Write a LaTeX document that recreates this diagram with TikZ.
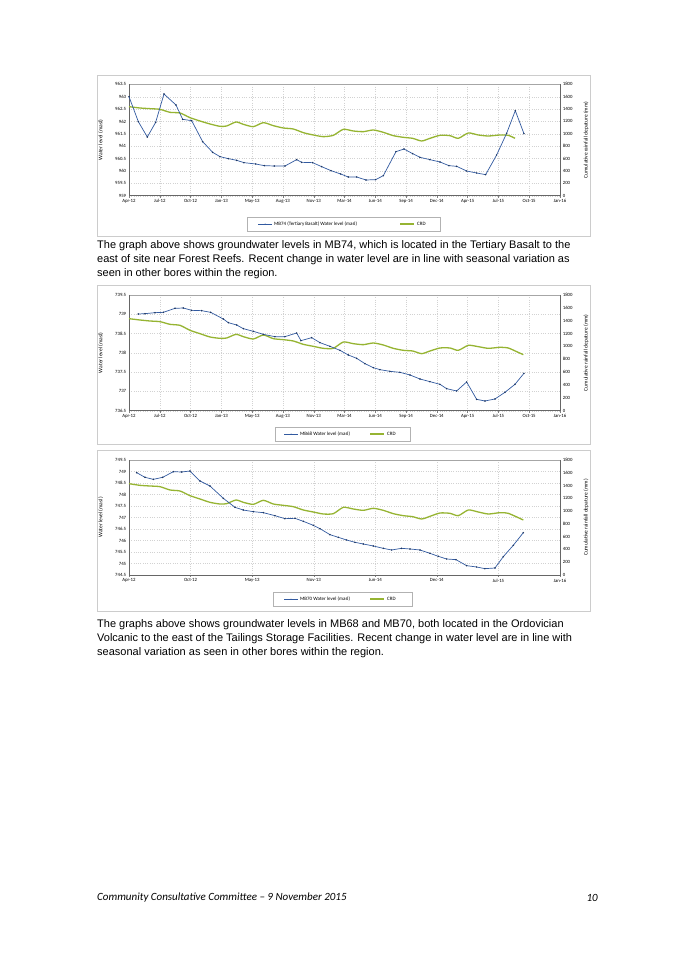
\documentclass[tikz,border=0pt]{standalone}
\usepackage{fontspec}
\setmainfont{Liberation Sans}
\newfontfamily\carl{Carlito}
\definecolor{blu}{RGB}{50,90,160}
\definecolor{grn}{RGB}{150,180,50}
\tikzset{tick/.style={font=\carl\fontsize{4.8}{5}\selectfont,inner sep=1pt},
 grid/.style={gray!35,dotted,line width=0.3pt},
 bl/.style={blu,line width=0.7pt},
 gr/.style={grn,line width=1.3pt},
 para/.style={font=\fontsize{11}{14}\selectfont,align=left,anchor=north west,inner sep=0pt}}
\newcommand\mychart[9]{%
\begin{scope}[shift={(#1,#2)},x=0.3333pt,y=-0.3333pt]
\pgfmathsetmacro\dy{(\pbot-\ptop)/#3}
\pgfmathsetmacro\dyr{(\pbot-\ptop)/9}
\pgfmathsetmacro\dx{(1410-117)/#5}
\foreach \l [count=\i from 0] in {#4} {
  \pgfmathsetmacro\yy{\ptop+\i*\dy}
  \draw[grid] (117,\yy) -- (1410,\yy);
  \node[tick,anchor=east] at (112,\yy) {\l};}
\foreach \l [count=\i from 0] in {1800,1600,1400,1200,1000,800,600,400,200,0} {
  \pgfmathsetmacro\yy{\ptop+\i*\dyr}
  \node[tick,anchor=west] at (1415,\yy) {\l};}
\foreach \l [count=\i from 0] in {#6} {
  \pgfmathsetmacro\xx{117+\i*\dx}
  \draw[grid] (\xx,\ptop) -- (\xx,\pbot);
  \draw[gray,line width=0.3pt] (\xx,\pbot) -- (\xx,\pbot+6);
  \node[tick,anchor=north] at (\xx,\pbot+8) {\l};}
\draw[gray!70,line width=0.4pt] (117,\ptop) -- (1410,\ptop);
\draw[gray!80!black,line width=0.4pt] (117,\ptop) -- (117,\pbot) -- (1410,\pbot) -- (1410,\ptop);
\node[tick,rotate=90,font=\carl\fontsize{5.5}{6}\selectfont] at (32,{(\ptop+\pbot)/2}) {Water level (masl)};
\node[tick,rotate=90,font=\carl\fontsize{5.5}{6}\selectfont] at (1488,{(\ptop+\pbot)/2}) {#9};
\draw[gr] plot[smooth,tension=0.4] coordinates {#8};
\draw[bl] plot[mark=*,mark size=0.35pt,mark options={fill=blu!60!black,draw=blu!60!black}] coordinates {#7};
\end{scope}}
\begin{document}
\begin{tikzpicture}[x=1pt,y=-1pt]
\path[use as bounding box,fill=white] (0,0) rectangle (682,965);
\draw[gray!40,line width=0.4pt] (97,75) rectangle (590,236);
\draw[gray!40,line width=0.4pt] (97,285) rectangle (590,444);
\draw[gray!40,line width=0.4pt] (97,450) rectangle (590,611);
\def\ptop{28}\def\pbot{362}
\mychart{90}{75}{9}{963.5,963,962.5,962,961.5,961,960.5,960,959.5,959}{14}{Apr-12,Jul-12,Oct-12,Jan-13,May-13,Aug-13,Nov-13,Mar-14,Jun-14,Sep-14,Dec-14,Apr-15,Jul-15,Oct-15,Jan-16}
{(117,65)(145,140)(172,186)(197,142)(222,57)(258,90)(278,133)(305,137)(338,200)(368,232)(390,245)(415,251)(440,256)(462,263)(497,267)(523,272)(553,273)(585,273)(620,254)(635,262)(668,263)(695,275)(723,287)(752,297)(775,306)(800,306)(828,315)(857,314)(880,302)(918,230)(942,222)(968,236)(990,247)(1020,254)(1050,261)(1077,272)(1100,274)(1130,288)(1160,294)(1187,299)(1220,240)(1250,175)(1276,107)(1302,176)}
{(117,95)(150,99)(180,101)(210,103)(240,112)(270,114)(300,128)(330,138)(360,147)(390,154)(410,153)(438,141)(460,148)(490,155)(520,143)(550,152)(580,159)(610,162)(640,173)(670,180)(700,185)(730,181)(760,163)(790,168)(820,170)(850,165)(880,172)(910,182)(940,187)(968,190)(995,198)(1020,190)(1050,181)(1080,182)(1105,190)(1135,174)(1165,180)(1195,183)(1230,180)(1255,181)(1275,190)}
{Cumulative rainfall depature (mm)}
\def\ptop{30}\def\pbot{377}
\mychart{90}{285}{6}{739.5,739,738.5,738,737.5,737,736.5}{14}{Apr-12,Jul-12,Oct-12,Jan-13,May-13,Aug-13,Nov-13,Mar-14,Jun-14,Sep-14,Dec-14,Apr-15,Jul-15,Oct-15,Jan-16}
{(145,87)(165,86)(195,83)(220,82)(255,70)(280,69)(305,76)(335,77)(362,82)(400,102)(415,113)(440,120)(460,131)(490,139)(520,148)(555,155)(585,155)(620,144)(633,167)(665,158)(690,173)(720,184)(750,196)(775,210)(800,220)(825,236)(850,248)(870,254)(900,259)(930,262)(960,270)(990,282)(1020,290)(1050,298)(1070,311)(1100,318)(1130,291)(1160,343)(1185,348)(1215,342)(1245,322)(1275,298)(1302,265)}
{(117,101)(150,105)(180,108)(210,110)(240,118)(270,121)(300,136)(330,146)(360,156)(390,160)(410,159)(438,148)(460,155)(490,162)(520,150)(550,161)(580,164)(610,168)(640,178)(670,184)(700,190)(730,190)(760,171)(790,176)(820,179)(850,174)(880,180)(910,190)(940,196)(968,198)(995,206)(1020,198)(1050,189)(1080,189)(1105,196)(1135,181)(1165,185)(1195,190)(1230,187)(1255,189)(1280,200)(1300,209)}
{Cumulative rainfall depature (mm)}
\def\ptop{30}\def\pbot{375}
\mychart{90}{450}{10}{749.5,749,748.5,748,747.5,747,746.5,746,745.5,745,744.5}{7}{Apr-12,Oct-12,May-13,Nov-13,Jun-14,Dec-14,Jul-15,Jan-16}
{(140,68)(165,82)(190,88)(218,82)(250,65)(275,66)(300,63)(330,93)(360,108)(400,145)(435,172)(460,180)(490,185)(520,188)(555,197)(585,206)(615,205)(640,214)(670,226)(690,236)(720,254)(745,262)(770,270)(795,277)(820,282)(850,288)(880,295)(905,300)(935,295)(960,297)(990,300)(1020,310)(1045,319)(1070,327)(1098,329)(1130,347)(1160,351)(1185,356)(1215,354)(1240,320)(1270,286)(1300,248)}
{(117,101)(150,106)(180,108)(210,110)(240,120)(270,123)(300,137)(330,147)(360,157)(390,162)(410,161)(438,150)(460,157)(490,163)(520,151)(550,162)(580,166)(610,170)(640,180)(670,186)(700,192)(730,191)(760,172)(790,177)(820,181)(850,175)(880,181)(910,191)(940,197)(968,200)(995,207)(1020,199)(1050,189)(1080,190)(1105,197)(1135,180)(1165,186)(1195,192)(1230,188)(1255,190)(1300,210)}
{Cumulative rainfall depature (mm)}
\tikzset{leg/.style={font=\carl\fontsize{5}{6}\selectfont,anchor=west,inner sep=1pt}}
\draw[gray!60,line width=0.3pt] (247,217) rectangle (440,231);
\draw[bl] (258,224) -- (272,224); \fill[blu] (265,224) circle (0.5pt);
\node[leg] (l1) at (273,224) {MB74 (Tertiary Basalt) Water level (masl)};
\draw[gr] (400,224) -- (414,224); \node[leg] (l1b) at (416,224) {CRD};
\draw[gray!60,line width=0.3pt] (275,427) rectangle (410,441);
\draw[bl] (284,434) -- (298,434); \fill[blu] (291,434) circle (0.5pt);
\node[leg] (l2) at (299,434) {MB68 Water level (masl)};
\draw[gr] (370,434) -- (384,434); \node[leg] (l2b) at (386,434) {CRD};
\draw[gray!60,line width=0.3pt] (273,592) rectangle (412,606);
\draw[bl] (284,599) -- (298,599); \fill[blu] (291,599) circle (0.5pt);
\node[leg] (l3) at (299,599) {MB70 Water level (masl)};
\draw[gr] (370,599) -- (384,599); \node[leg] (l3b) at (386,599) {CRD};
\node[para] (p1) at (97,240) {The graph above shows groundwater levels in MB74, which is located in the Tertiary Basalt to the\\east of site near Forest Reefs. Recent change in water level are in line with seasonal variation as\\seen in other bores within the region.};
\node[para] (p2) at (97,619) {The graphs above shows groundwater levels in MB68 and MB70, both located in the Ordovician\\Volcanic to the east of the Tailings Storage Facilities. Recent change in water level are in line with\\seasonal variation as seen in other bores within the region.};
\node[font=\carl\itshape\fontsize{11}{13}\selectfont,anchor=west,inner sep=0pt] (f1) at (97,898) {Community Consultative Committee – 9 November 2015};
\node[font=\carl\itshape\fontsize{11}{13}\selectfont,anchor=east,inner sep=0pt] (f2) at (598,898) {10};
\end{tikzpicture}
\end{document}
